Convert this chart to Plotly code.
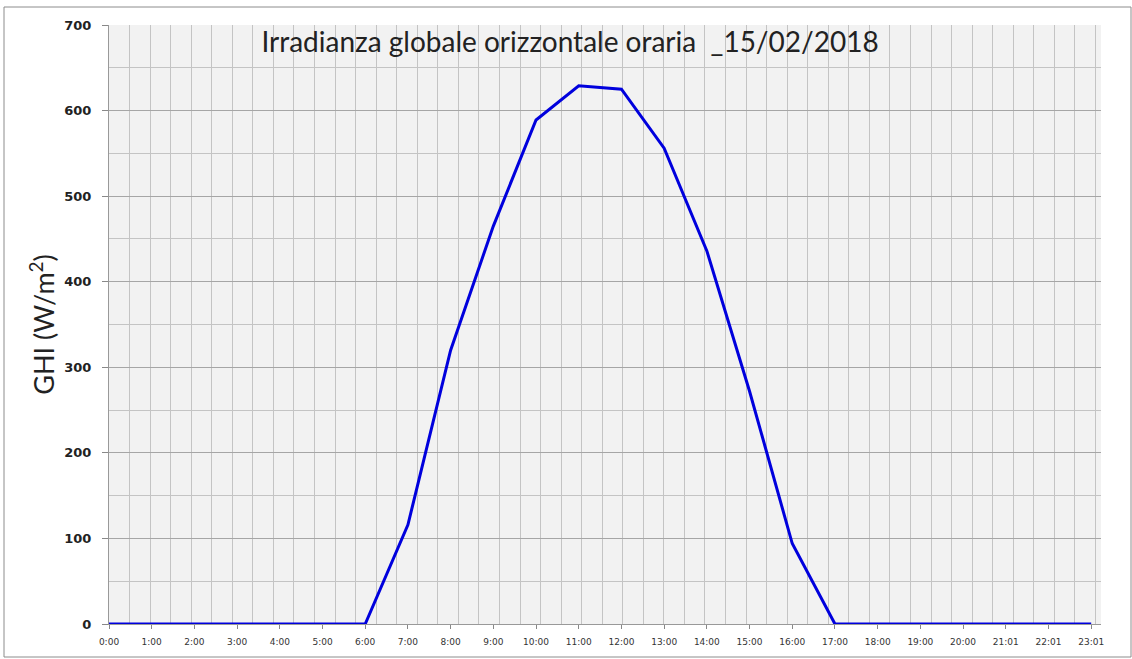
import plotly.graph_objects as go

hours = list(range(24))
hour_labels = ["0:00", "1:00", "2:00", "3:00", "4:00", "5:00", "6:00", "7:00", "8:00",
               "9:00", "10:00", "11:00", "12:00", "13:00", "14:00", "15:00", "16:00",
               "17:00", "18:00", "19:00", "20:00", "21:01", "22:01", "23:01"]
ghi = [0, 0, 0, 0, 0, 0, 0, 116, 320, 465, 589, 629, 625, 556, 436, 272, 94,
       0, 0, 0, 0, 0, 0, 0]

W, H = 1132, 659
ml, mt = 109, 25
pr, pb = 1101, 624   # plot right / bottom in px
mr, mb = W - pr, H - pb

fig = go.Figure()
fig.add_trace(go.Scatter(
    x=hours, y=ghi, mode="lines",
    line=dict(color="#0000dd", width=3),
    showlegend=False, hoverinfo="skip",
))

fig.update_layout(
    width=W, height=H,
    margin=dict(l=ml, r=mr, t=mt, b=mb, autoexpand=False),
    paper_bgcolor="white",
    plot_bgcolor="#f2f2f2",
    title=dict(
        text="Irradianza globale orizzontale oraria  _15/02/2018",
        x=570 / W, xref="container", xanchor="center",
        y=1 - 42 / H, yref="container", yanchor="middle",
        font=dict(family="Lato", size=28, color="#222222"),
    ),
    xaxis=dict(
        range=[0, 23.23],
        tickmode="array", tickvals=hours, ticktext=hour_labels,
        tickfont=dict(family="DejaVu Sans", size=9, color="#333333"),
        ticks="outside", ticklen=4, tickcolor="#888888",
        ticklabelstandoff=5,
        showgrid=False, zeroline=False,
        showline=True, linecolor="#999999", linewidth=1,
        minor=dict(tickmode="linear", tick0=0, dtick=0.48125,
                   showgrid=True, gridcolor="#c4c4c4", gridwidth=1, ticks=""),
    ),
    yaxis=dict(
        range=[0, 700],
        tickmode="linear", tick0=0, dtick=100,
        tickfont=dict(family="DejaVu Sans", size=13, color="#222222", weight="bold"),
        ticks="outside", ticklen=6, tickcolor="#888888",
        ticklabelstandoff=8,
        showgrid=True, gridcolor="#a6a6a6", gridwidth=1,
        zeroline=False,
        showline=True, linecolor="#999999", linewidth=1,
        minor=dict(tickmode="linear", tick0=0, dtick=50,
                   showgrid=True, gridcolor="#c4c4c4", gridwidth=1, ticks=""),
        title=dict(text="GHI (W/m<sup>2</sup>)",
                   font=dict(family="Lato", size=27, color="#222222"),
                   standoff=1),
    ),
)

pw = W - ml - mr
ph = H - mt - mb
fig.add_shape(
    type="rect", xref="paper", yref="paper",
    x0=(4 - ml) / pw, x1=(1131 - ml) / pw,
    y0=(pb - 657) / ph, y1=(pb - 7) / ph,
    line=dict(color="#8c8c8c", width=1), fillcolor="rgba(0,0,0,0)", layer="below",
)

fig.write_html("out.html", config={"displayModeBar": False},
               post_script="document.body.style.margin='0';")
